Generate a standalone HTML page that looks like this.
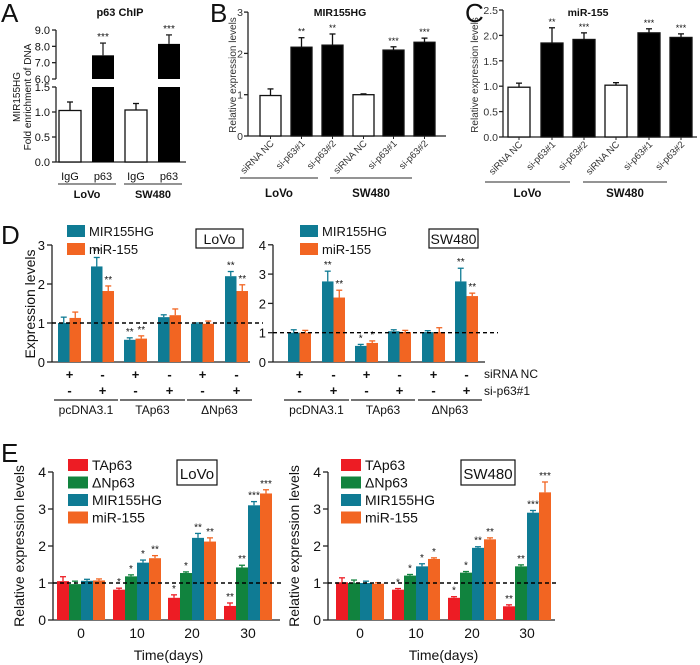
<!DOCTYPE html>
<html><head><meta charset="utf-8"><style>
html,body{margin:0;padding:0;background:#fff;}
svg{display:block;font-family:"Liberation Sans",Arial,sans-serif;}
</style></head><body>
<svg id="fig" width="700" height="665" viewBox="0 0 700 665" xmlns="http://www.w3.org/2000/svg"></svg>
<script>
// ---- Panel A data ----
const aCats=['IgG','p63','IgG','p63'];
const aVals=[1.03,7.45,1.04,8.15];
const aErr=[0.17,0.75,0.13,0.55];
const aStars=['','***','','***'];
// ---- Panel B data ----
const bCats=['siRNA NC','si-p63#1','si-p63#2','siRNA NC','si-p63#1','si-p63#2'];
const bVals=[0.98,2.15,2.2,1.0,2.08,2.27];
const bErr=[0.16,0.23,0.27,0.02,0.08,0.1];
const bStars=['','**','**','','***','***'];
const bTicks=[0,1,2,3];
// ---- Panel C data ----
const cVals=[0.98,1.85,1.92,1.02,2.05,1.96];
const cErr=[0.08,0.3,0.13,0.05,0.08,0.07];
const cStars=['','**','***','','***','***'];
const cTicks=['0.0','0.5','1.0','1.5','2.0','2.5'];
// ---- Panel D data ----
const dRow1=['+','-','+','-','+','-'];
const dRow2=['-','+','-','+','-','+'];
const dGroups=['pcDNA3.1','TAp63','ΔNp63'];
const dLoVoMIR=[1.0,2.45,0.57,1.15,0.98,2.2];
const dLoVoMIRErr=[0.15,0.23,0.05,0.06,0.02,0.12];
const dLoVoMIRStars=['','**','**','','','**'];
const dLoVoMiR=[1.13,1.82,0.6,1.2,0.98,1.82];
const dLoVoMiRErr=[0.15,0.13,0.07,0.16,0.07,0.16];
const dLoVoMiRStars=['','**','**','','','**'];
const dSWMIR=[1.0,2.75,0.55,1.05,1.02,2.75];
const dSWMIRErr=[0.1,0.35,0.05,0.05,0.05,0.45];
const dSWMIRStars=['','**','*','','','**'];
const dSWMiR=[1.0,2.2,0.65,1.02,1.02,2.25];
const dSWMiRErr=[0.08,0.25,0.07,0.06,0.15,0.1];
const dSWMiRStars=['','**','*','','','**'];
// ---- Panel E data ----
const eDays=['0','10','20','30'];
const eSeries=['TAp63','ΔNp63','MIR155HG','miR-155'];
const eLoVoTA=[1.05,0.82,0.6,0.38];
const eLoVoDN=[0.97,1.18,1.27,1.42];
const eLoVoMIR=[1.06,1.55,2.22,3.1];
const eLoVoMiR=[1.07,1.67,2.12,3.42];
const eLoVoErr=[[0.12,0.04,0.08,0.08],[0.08,0.04,0.03,0.06],[0.04,0.07,0.12,0.1],[0.04,0.07,0.1,0.1]];
const eLoVoStars=[['','*','*','**'],['','*','*','**'],['','*','**','***'],['','**','**','***']];
const eSWTA=[1.02,0.82,0.6,0.37];
const eSWDN=[1.0,1.2,1.28,1.45];
const eSWMIR=[1.0,1.45,1.95,2.9];
const eSWMiR=[0.98,1.65,2.18,3.45];
const eSWErr=[[0.12,0.03,0.03,0.04],[0.08,0.03,0.03,0.04],[0.05,0.07,0.03,0.06],[0.03,0.03,0.04,0.28]];
const eSWStars=[['','*','*','**'],['','*','*','**'],['','*','**','***'],['','*','**','***']];

const NS='http://www.w3.org/2000/svg';
const svg=document.getElementById('fig');
function mk(tag,attrs,parent,text){const e=document.createElementNS(NS,tag);for(const k in attrs)e.setAttribute(k,attrs[k]);if(text!==undefined)e.textContent=text;(parent||svg).appendChild(e);return e;}
function grp(name){const g=mk('g',{});return g;}
function txt(g,x,y,s,size,opts){opts=opts||{};const t=mk('text',Object.assign({x:x,y:y,'font-size':size,fill:'#111','text-anchor':opts.anchor||'middle'},opts.extra||{}),g,s);return t;}
function line(g,x1,y1,x2,y2,w,extra){return mk('line',Object.assign({x1:x1,y1:y1,x2:x2,y2:y2,stroke:'#222','stroke-width':w||1},extra||{}),g);}
function lin(y0,ppu,v0){return v=>y0-(v-(v0||0))*ppu;}
function bar(g,x,w,ys,v,e,fill,stroke,star,starSize,name){
  const r=mk('rect',{x:x,y:ys(v),width:w,height:ys(0)-ys(v),fill:fill,stroke:stroke||'none','stroke-width':1.3},g);
  
  const cx=x+w/2,ty=ys(v+e);
  line(g,cx,ys(v),cx,ty,1.3,{stroke:stroke||fill});line(g,cx-3,ty,cx+3,ty,1.3,{stroke:stroke||fill});
  if(star)txt(g,cx,ty-3,star,starSize||10,{name:'significance-mark'});
}
function letter(s,x,y){txt(svg,x,y,s,26,{anchor:'start',name:'panel-label-'+s.toLowerCase()});}

// ================= Panel A =================
(function(){
  const g=grp('panel-a');letter('A',1,22);
  txt(g,120,16,'p63 ChIP',11,{name:'chart-title',extra:{'font-weight':'bold'}});
  const ax=56, lo=lin(162,50), hi=lin(79,16.33,6);
  line(g,ax,162,ax,87,1.3);line(g,ax,79,ax,30,1.3);line(g,ax,162,186,162,1.3);
  [['0.0',0],['0.5',0.5],['1.0',1],['1.5',1.5]].forEach(t=>{line(g,ax-4,lo(t[1]),ax,lo(t[1]),1.3);txt(g,ax-6,lo(t[1])+4,t[0],11,{anchor:'end',name:'y-tick'});});
  [['6.0',6],['7.0',7],['8.0',8],['9.0',9]].forEach(t=>{line(g,ax-4,hi(t[1]),ax,hi(t[1]),1.3);txt(g,ax-6,hi(t[1])+4,t[0],11,{anchor:'end',name:'y-tick'});});
  const xs=[59,92,125,158];
  aVals.forEach((v,i)=>{
    if(v<1.5){bar(g,xs[i],22,lo,v,aErr[i],'#fff','#111',aStars[i],10,'bar-'+i);}
    else{
      const r1=mk('rect',{x:xs[i],y:87,width:22,height:75,fill:'#000'},g);
      const r2=mk('rect',{x:xs[i],y:hi(v),width:22,height:79-hi(v),fill:'#000'},g);
      const cx=xs[i]+11,ty=hi(v+aErr[i]);line(g,cx,hi(v),cx,ty,1.3);line(g,cx-3,ty,cx+3,ty,1.3);
      txt(g,cx,ty-3,aStars[i],10,{name:'significance-mark'});
    }
    txt(g,xs[i]+11,180,aCats[i],11,{name:'x-tick'});
  });
  line(g,58,184,116,184,1.3,{stroke:'#555'});line(g,124,184,182,184,1.3,{stroke:'#555'});
  txt(g,87,198,'LoVo',11,{name:'group-label',extra:{'font-weight':'bold'}});txt(g,153,198,'SW480',11,{name:'group-label',extra:{'font-weight':'bold'}});
  txt(g,0,0,'MIR155HG',10,{name:'y-axis-title',extra:{transform:'translate(20,97) rotate(-90)'}});
  txt(g,0,0,'Fold enrichment of DNA',10,{name:'y-axis-title',extra:{transform:'translate(31,97) rotate(-90)'}});
})();

// ============ Panels B & C ============
function panelBC(name,L,title,titleX,ax,ys,ticks,tickVals,vals,errs,stars,xs,w,ul,ulY,lblY,endX,ylabX,ylabY){
  const g=grp(name);letter(L,ax-38,22);
  txt(g,titleX,16,title,10.5,{name:'chart-title',extra:{'font-weight':'bold'}});
  line(g,ax,ys(tickVals[tickVals.length-1]),ax,ys(0),1.3);line(g,ax,ys(0),endX,ys(0),1.3);
  tickVals.forEach((t,i)=>{line(g,ax-4,ys(t),ax,ys(t),1.3);txt(g,ax-5,ys(t)+4,ticks[i],10.5,{anchor:'end',name:'y-tick',extra:{fill:'#333'}});});
  vals.forEach((v,i)=>{
    bar(g,xs[i],w,ys,v,errs[i],i%3===0?'#fff':'#000','#111',stars[i],9,'bar-'+i);
    line(g,xs[i]+w/2,ys(0),xs[i]+w/2,ys(0)+3,1);
    txt(g,0,0,bCats[i],9.5,{anchor:'end',name:'x-tick',extra:{transform:'translate('+(xs[i]+w/2+4)+','+(ys(0)+8)+') rotate(-45)',fill:'#333'}});
  });
  line(g,ul[0],ulY,ul[1],ulY,1.2,{stroke:'#555'});line(g,ul[2],ulY,ul[3],ulY,1.2,{stroke:'#555'});
  txt(g,(ul[0]+ul[1])/2,lblY,'LoVo',11.5,{name:'group-label',extra:{'font-weight':'bold'}});
  txt(g,(ul[2]+ul[3])/2,lblY,'SW480',11.5,{name:'group-label',extra:{'font-weight':'bold'}});
  txt(g,0,0,'Relative expression levels',10,{name:'y-axis-title',extra:{transform:'translate('+ylabX+','+ylabY+') rotate(-90)',fill:'#333'}});
}
panelBC('panel-b','B','MIR155HG',340,248,lin(136,41.3),bTicks.map(String),bTicks,bVals,bErr,bStars,[260,291,322,353,383,414],21,[240,318,330,412],178,197,446,236,75);
panelBC('panel-c','C','miR-155',588,503,lin(137,50.8),cTicks,cTicks.map(Number),cVals,cErr,cStars,[508,541,573,605,638,670],22,[485,570,583,667],182,197,697,478,75);

// ================= Panel D =================
function panelD(name,ax,ys,maxT,endX,gx,MIR,MIRe,MIRs,MiR,MiRe,MiRs,legX,boxX,boxW,boxLabel,rowLabels,letterD){
  const g=grp(name);if(letterD)letter('D',1,244);
  line(g,ax,ys(maxT),ax,ys(0),1.3);line(g,ax,ys(0),endX,ys(0),1.3);
  for(let t=0;t<=maxT;t++){line(g,ax-5,ys(t),ax,ys(t),1.3);txt(g,ax-7,ys(t)+5,String(t),13,{anchor:'end',name:'y-tick'});}
  MIR.forEach((v,i)=>{
    bar(g,gx[i],11.5,ys,v,MIRe[i],'#0f7b94',null,MIRs[i],10,'bar-mir155hg-'+i);
    bar(g,gx[i]+11.5,11.5,ys,MiR[i],MiRe[i],'#f26522',null,MiRs[i],10,'bar-mir-155-'+i);
    const cx=gx[i]+11.5;
    txt(g,cx,ys(0)+17,dRow1[i],13,{name:'sirna-nc-sign',extra:{'font-weight':'bold'}});
    txt(g,cx,ys(0)+33,dRow2[i],13,{name:'si-p63-sign',extra:{'font-weight':'bold'}});
  });
  line(g,ax,ys(1),endX+13,ys(1),1.4,{stroke:'#000','stroke-dasharray':'4,3'});
  dGroups.forEach((s,k)=>{const x1=gx[2*k]-4,x2=gx[2*k+1]+27;line(g,x1,ys(0)+38,x2,ys(0)+38,1.2);txt(g,(x1+x2)/2,ys(0)+52,s,12,{name:'group-label'});});
  if(rowLabels){txt(g,endX-1,ys(0)+16,'siRNA NC',12,{anchor:'start',name:'row-label'});txt(g,endX-1,ys(0)+33,'si-p63#1',12,{anchor:'start',name:'row-label'});}
  [['MIR155HG','#0f7b94',225],['miR-155','#f26522',243]].forEach(l=>{
    const lg=grp('legend-entry');svg.removeChild(lg);g.appendChild(lg);
    mk('rect',{x:legX,y:l[2],width:18,height:12,fill:l[1]},lg);txt(lg,legX+22,l[2]+11,l[0],13,{anchor:'start',name:'legend-label'});
  });
  const b=mk('rect',{x:boxX,y:229,width:boxW,height:19,fill:'#fff',stroke:'#111','stroke-width':1.2},g);
  txt(g,boxX+boxW/2,244,boxLabel,14,{name:'cell-line-label'});
}
panelD('panel-d-lovo',52,lin(362,39),3,250,[58,91,124,158,191,225],dLoVoMIR,dLoVoMIRErr,dLoVoMIRStars,dLoVoMiR,dLoVoMiRErr,dLoVoMiRStars,67,196,47,'LoVo',false,true);
panelD('panel-d-sw480',273,lin(362,29.3),4,485,[288,322,355,388,422,455],dSWMIR,dSWMIRErr,dSWMIRStars,dSWMiR,dSWMiRErr,dSWMiRStars,300,429,49,'SW480',true,false);
txt(svg,0,0,'Expression levels',14,{name:'y-axis-title',extra:{transform:'translate(35,304) rotate(-90)'}});

// ================= Panel E =================
const eColors=['#ed1c24','#11833e','#0f7b94','#f26522'];
function panelE(name,ax,ys,endX,gx,series,errs,stars,legX,boxX,boxW,boxLabel,letterE){
  const g=grp(name);if(letterE)letter('E',1,462);
  line(g,ax,ys(4),ax,ys(0),1.3);line(g,ax,ys(0),endX,ys(0),1.3);
  for(let t=0;t<=4;t++){line(g,ax-5,ys(t),ax,ys(t),1.3);txt(g,ax-7,ys(t)+5,String(t),14,{anchor:'end',name:'y-tick'});}
  eDays.forEach((d,j)=>{
    series.forEach((s,k)=>bar(g,gx[j]+k*12,12,ys,s[j],errs[k][j],eColors[k],null,stars[k][j],10,'bar-'+eSeries[k]+'-day'+d));
    txt(g,gx[j]+24,ys(0)+18,d,14,{name:'x-tick'});
  });
  line(g,ax,ys(1),endX+2,ys(1),1.4,{stroke:'#000','stroke-dasharray':'4,3'});
  txt(g,(ax+endX)/2+2,ys(0)+40,'Time(days)',14,{name:'x-axis-title'});
  txt(g,0,0,'Relative expression levels',14,{name:'y-axis-title',extra:{transform:'translate('+(ax-29)+','+ys(2)+') rotate(-90)'}});
  eSeries.forEach((s,k)=>{
    const lg=grp('legend-entry');svg.removeChild(lg);g.appendChild(lg);
    const y=459+k*17.5;mk('rect',{x:legX,y:y,width:20,height:12,fill:eColors[k]},lg);txt(lg,legX+24,y+11,s,14,{anchor:'start',name:'legend-label'});
  });
  const b=mk('rect',{x:boxX,y:460,width:boxW,height:25,fill:'#fff',stroke:'#111','stroke-width':1.2},g);
  txt(g,boxX+boxW/2,479,boxLabel,15,{name:'cell-line-label'});
}
panelE('panel-e-lovo',53,lin(620,37),280,[57,113,168,224],[eLoVoTA,eLoVoDN,eLoVoMIR,eLoVoMiR],eLoVoErr,eLoVoStars,68,177,40,'LoVo',true);
panelE('panel-e-sw480',328,lin(620,37),555,[336,392,448,503],[eSWTA,eSWDN,eSWMIR,eSWMiR],eSWErr,eSWStars,341,461,54,'SW480',false);
</script>
</body></html>
